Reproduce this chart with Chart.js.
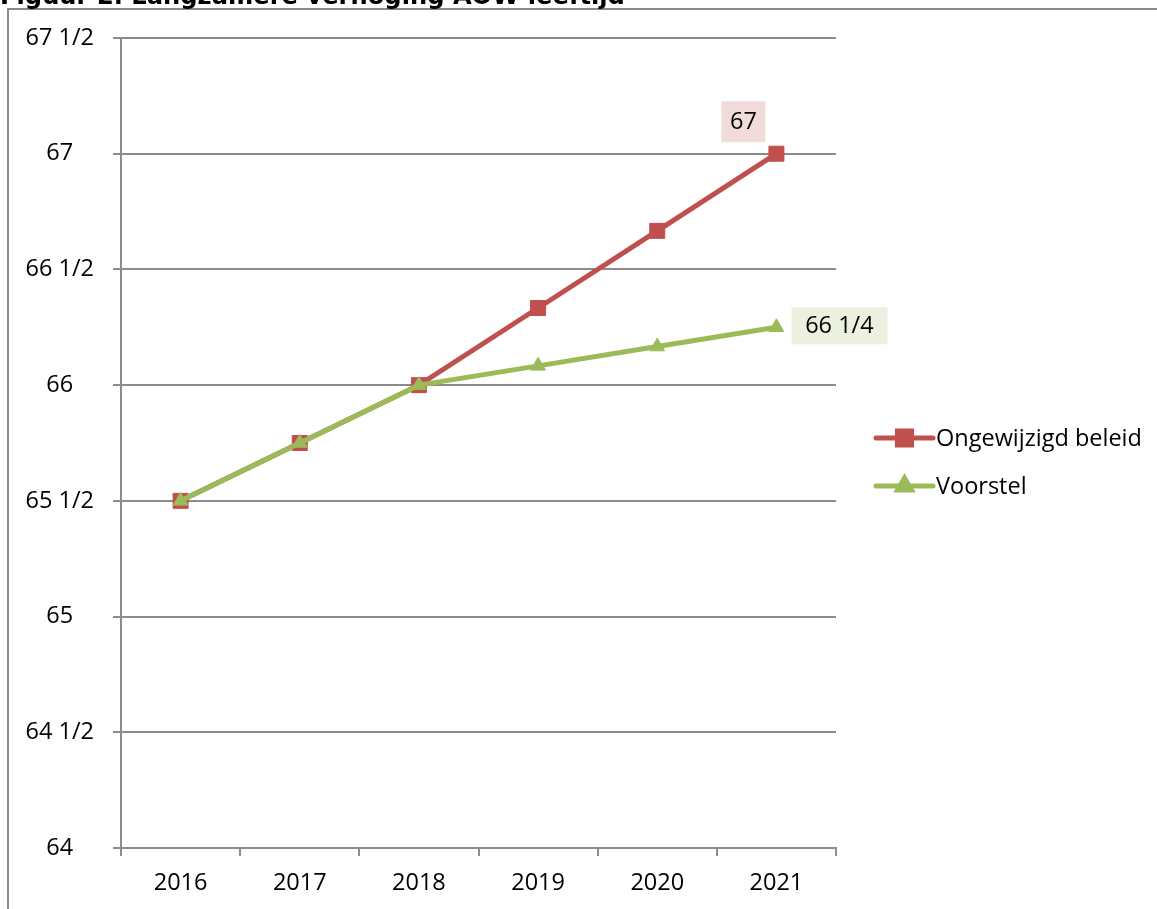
<!DOCTYPE html>
<html>
<head>
<meta charset="utf-8">
<script src="https://cdn.jsdelivr.net/npm/chart.js@4/dist/chart.umd.min.js"></script>
<style>
  html, body { margin: 0; padding: 0; background: #fff; overflow: hidden; }
  #wrap { position: relative; width: 1157px; height: 909px; }
</style>
</head>
<body>
<div id="wrap"><canvas id="c"></canvas></div>
<script>
// ---- data ----
const titleText = 'Figuur 2. Langzamere verhoging AOW-leeftijd';
const years = ['2016', '2017', '2018', '2019', '2020', '2021'];
const seriesNames = ['Ongewijzigd beleid', 'Voorstel'];
const ongewijzigd = [65.5, 65.75, 66, 66 + 4/12, 66 + 8/12, 67];
const voorstel = [65.5, 65.75, 66, 66 + 1/12, 66 + 2/12, 66.25];
const yTickValues = [64, 64.5, 65, 65.5, 66, 66.5, 67, 67.5];
const yTickLabels = ['64', '64 1/2', '65', '65 1/2', '66', '66 1/2', '67', '67 1/2'];
const endLabels = ['67', '66 1/4'];

// ---- styles ----
const RED = '#c0504d', GREEN = '#9bbb59';
const GRID = '#8c8c8c';
const FONT = '"Open Sans", "Noto Sans", sans-serif';
const FS = 23.5;

const framePlugin = {
  id: 'frame',
  beforeDraw(chart) {
    const ctx = chart.ctx;
    ctx.save();
    ctx.strokeStyle = '#8a8a8a';
    ctx.lineWidth = 2;
    ctx.strokeRect(8, 9, 3000, 3000);
    // title (partly cut off at top)
    ctx.fillStyle = '#000';
    ctx.font = 'bold 20px "DejaVu Sans"';
    const w = ctx.measureText(titleText).width;
    const size = 20 * 625 / w;
    ctx.font = 'bold ' + size + 'px "DejaVu Sans"';
    ctx.textBaseline = 'alphabetic';
    ctx.textAlign = 'left';
    ctx.fillText(titleText, 0, 4);
    ctx.restore();
  }
};

const labelBoxes = [
  { bg: '#f2dcdb', dx: -33, dy: -32, w: 44, h: 41 },
  { bg: '#ebf1de', dx: 63, dy: -1.5, w: 96, h: 37 }
];

const endLabelPlugin = {
  id: 'endLabels',
  afterDatasetsDraw(chart) {
    const ctx = chart.ctx;
    ctx.save();
    chart.data.datasets.forEach((ds, i) => {
      const meta = chart.getDatasetMeta(i);
      const pt = meta.data[meta.data.length - 1];
      const b = labelBoxes[i];
      const cx = pt.x + b.dx, cy = pt.y + b.dy;
      ctx.fillStyle = b.bg;
      ctx.fillRect(cx - b.w / 2, cy - b.h / 2, b.w, b.h);
      ctx.fillStyle = '#000';
      ctx.font = FS + 'px ' + FONT;
      ctx.textAlign = 'center';
      ctx.textBaseline = 'middle';
      ctx.fillText(endLabels[i], cx, cy + 1);
    });
    ctx.restore();
  }
};

const legendMarkerRadius = [10, 8];

const legendPlugin = {
  id: 'customLegend',
  afterDraw(chart) {
    const ctx = chart.ctx;
    const a = chart.chartArea;
    ctx.save();
    chart.data.datasets.forEach((ds, i) => {
      const y = a.top + 400 + i * 48;
      const x0 = a.right + 40, x1 = a.right + 97;
      ctx.strokeStyle = ds.borderColor;
      ctx.lineWidth = 5;
      ctx.lineCap = 'round';
      ctx.beginPath();
      ctx.moveTo(x0, y);
      ctx.lineTo(x1, y);
      ctx.stroke();
      Chart.helpers.drawPoint(ctx, {
        pointStyle: ds.pointStyle, radius: legendMarkerRadius[i], borderWidth: 1
      }, (x0 + x1) / 2, y);
      ctx.fillStyle = ds.pointBackgroundColor;
      ctx.strokeStyle = ds.pointBorderColor;
      ctx.lineWidth = 1;
      ctx.fill();
      ctx.stroke();
      ctx.fillStyle = '#000';
      ctx.font = FS + 'px ' + FONT;
      ctx.textAlign = 'left';
      ctx.textBaseline = 'middle';
      ctx.fillText(seriesNames[i], x1 + 3, y + 1);
    });
    ctx.restore();
  }
};

new Chart(document.getElementById('c'), {
  type: 'line',
  data: {
    labels: years,
    datasets: [
      {
        label: seriesNames[0], data: ongewijzigd,
        borderColor: RED, backgroundColor: RED, borderWidth: 5,
        pointStyle: 'rect', pointRadius: 10.6, pointHoverRadius: 10.6,
        pointBackgroundColor: RED, pointBorderColor: RED, pointBorderWidth: 1,
        tension: 0, order: 1
      },
      {
        label: seriesNames[1], data: voorstel,
        borderColor: GREEN, backgroundColor: GREEN, borderWidth: 5,
        pointStyle: 'triangle', pointRadius: 8.5, pointHoverRadius: 8.5,
        pointBackgroundColor: GREEN, pointBorderColor: GREEN, pointBorderWidth: 1,
        tension: 0, order: 0
      }
    ]
  },
  options: {
    responsive: true,
    maintainAspectRatio: false,
    animation: false,
    layout: { padding: { left: 8, right: 321, top: 38, bottom: 0 } },
    plugins: { legend: { display: false }, tooltip: { enabled: false } },
    scales: {
      x: {
        offset: true,
        grid: { display: true, drawOnChartArea: false, offset: true, tickLength: 8, color: GRID, lineWidth: 2 },
        border: { display: true, color: GRID, width: 2 },
        ticks: { color: '#000', font: { family: FONT, size: FS }, padding: 13, maxRotation: 0 },
        afterFit(s) { s.height = 61; }
      },
      y: {
        min: 64, max: 67.5,
        afterBuildTicks(s) { s.ticks = yTickValues.map(v => ({ value: v })); },
        grid: { color: GRID, lineWidth: 2, tickLength: 8 },
        border: { display: true, color: GRID, width: 2 },
        ticks: {
          color: '#000', font: { family: FONT, size: FS }, padding: 19, crossAlign: 'center',
          callback(v) { const i = yTickValues.indexOf(v); return i >= 0 ? yTickLabels[i] : ''; }
        },
        afterFit(s) { s.width = 113; }
      }
    }
  },
  plugins: [framePlugin, endLabelPlugin, legendPlugin]
});
</script>
</body>
</html>
